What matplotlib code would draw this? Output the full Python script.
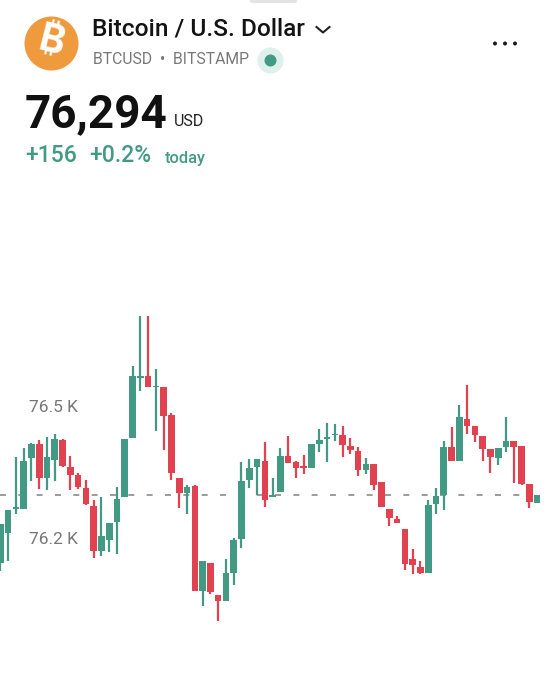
import matplotlib
matplotlib.use("Agg")
import matplotlib.pyplot as plt
from matplotlib.patches import Circle, FancyBboxPatch

opens = [76145,76214,76269,76268,76385,76417,76338,76380,76425,76364,
         76345,76317,76276,76173,76198,76239,76296,76430,76566,76570,
         76545,76545,76482,76338,76305,76320,76083,76146,76073,76059,
         76123,76200,76334,76364,76378,76295,76308,76390,76376,76366,
         76361,76417,76427,76436,76437,76411,76401,76358,76370,76330,
         76269,76246,76224,76156,76136,76123,76279,76300,76410,76377,
         76473,76456,76435,76404,76385,76409,76423,76411,76325,76283]
highs = [76234,76267,76386,76406,76419,76425,76433,76439,76427,76389,
         76351,76334,76289,76296,76237,76319,76427,76594,76708,76707,
         76587,76545,76486,76338,76324,76322,76151,76146,76073,76156,
         76202,76376,76382,76381,76420,76339,76406,76435,76378,76392,
         76417,76450,76465,76461,76457,76430,76410,76385,76370,76330,
         76269,76253,76224,76177,76150,76288,76317,76423,76455,76505,
         76551,76456,76435,76404,76408,76478,76423,76411,76325,76300]
lows = [76128,76151,76257,76268,76333,76313,76311,76333,76364,76311,
        76314,76277,76157,76162,76171,76167,76296,76430,76536,76546,
        76446,76402,76334,76271,76258,76082,76048,76076,76013,76059,
        76095,76180,76317,76301,76274,76295,76308,76372,76339,76347,
        76361,76399,76376,76422,76387,76394,76344,76347,76311,76274,
        76231,76236,76131,76121,76121,76123,76257,76267,76377,76377,
        76439,76420,76377,76350,76369,76399,76328,76324,76270,76283]
closes = [76234,76267,76274,76378,76416,76338,76387,76427,76366,76345,
          76319,76280,76173,76208,76237,76292,76427,76571,76570,76546,
          76548,76479,76351,76305,76318,76083,76151,76080,76059,76122,
          76199,76333,76361,76381,76288,76301,76390,76374,76362,76361,
          76417,76425,76433,76439,76413,76402,76358,76370,76324,76274,
          76248,76236,76144,76142,76122,76277,76299,76409,76377,76477,
          76458,76437,76405,76387,76408,76423,76410,76325,76284,76300]
reference_price = 76301
y_ticks = [76200, 76500]
y_tick_labels = ["76.2 K", "76.5 K"]

GREEN = "#429a85"
RED = "#e0434f"
W, H = 547, 680

fig = plt.figure(figsize=(W / 100, H / 100), dpi=100, facecolor="white")
ax = fig.add_axes([0, 0, 1, 1])
ax.set_xlim(-0.04, 70.27)
ax.set_ylim(75880, 77425)
ax.axis("off")

ax.plot([-0.04, 68.2], [reference_price] * 2, color="#808080", lw=1.1,
        dashes=(3.9, 8.1), zorder=1)

for i, (o, h, l, c) in enumerate(zip(opens, highs, lows, closes)):
    col = GREEN if c >= o else RED
    ax.vlines(i, l, h, color=col, lw=1.6, zorder=2)
    ax.bar(i, abs(c - o), bottom=min(o, c), width=0.85, color=col, lw=0, zorder=3)

for t, lab in zip(y_ticks, y_tick_labels):
    ax.text(3.7, t, lab, fontsize=12.5, color="#777777", family="Roboto",
            ha="left", va="center", zorder=4)

ov = fig.add_axes([0, 0, 1, 1], facecolor="none")
ov.set_xlim(0, W)
ov.set_ylim(H, 0)
ov.axis("off")

ov.add_patch(FancyBboxPatch((250, -3), 47, 6, boxstyle="round,pad=0,rounding_size=2",
                            fc="#e4e4e4", ec="none"))
ov.add_patch(Circle((51.5, 43.5), 27, fc="#ef9a3c", ec="none"))
ov.text(51.5, 43, "\u20bf", fontsize=28,
        family=["Inter", "Roboto", "Noto Sans", "Open Sans", "Lato", "Liberation Sans"],
        weight="bold", color="white", rotation=-14, ha="center", va="center")

ov.text(92, 29, "Bitcoin / U.S. Dollar", fontsize=17.6, family="Roboto", weight="medium",
        color="#131313", ha="left", va="center")
ov.plot([316.5, 323, 329.5], [27, 32.5, 27], color="#222222", lw=1.5)
ov.text(93, 60, "BTCUSD  \u2022  BITSTAMP", fontsize=11.35, family="Roboto", color="#787878",
        ha="left", va="center")
ov.add_patch(Circle((270.5, 60.5), 13, fc="#dff0ec", ec="none"))
ov.add_patch(Circle((270.5, 60.5), 6, fc=GREEN, ec="none"))
for x in (495, 505, 515):
    ov.add_patch(Circle((x, 43.5), 2, fc="#1a1a1a", ec="none"))

ov.text(25, 127, "76,294", fontsize=33, family="Roboto", weight="bold", color="#111111",
        ha="left", va="baseline")
ov.text(173.5, 121.5, "USD", fontsize=11.5, family="Roboto", color="#222222",
        ha="left", va="center")
ov.text(25, 155.5, "+156", fontsize=16.5, family="Roboto", weight="medium", color=GREEN,
        ha="left", va="center")
ov.text(89.5, 155.5, "+0.2%", fontsize=16.5, family="Roboto", weight="medium", color=GREEN,
        ha="left", va="center")
ov.text(164.5, 158, "today", fontsize=11.8, family="Roboto", weight="medium", color=GREEN,
        ha="left", va="center")

fig.savefig("out.png", dpi=100, facecolor="white")
